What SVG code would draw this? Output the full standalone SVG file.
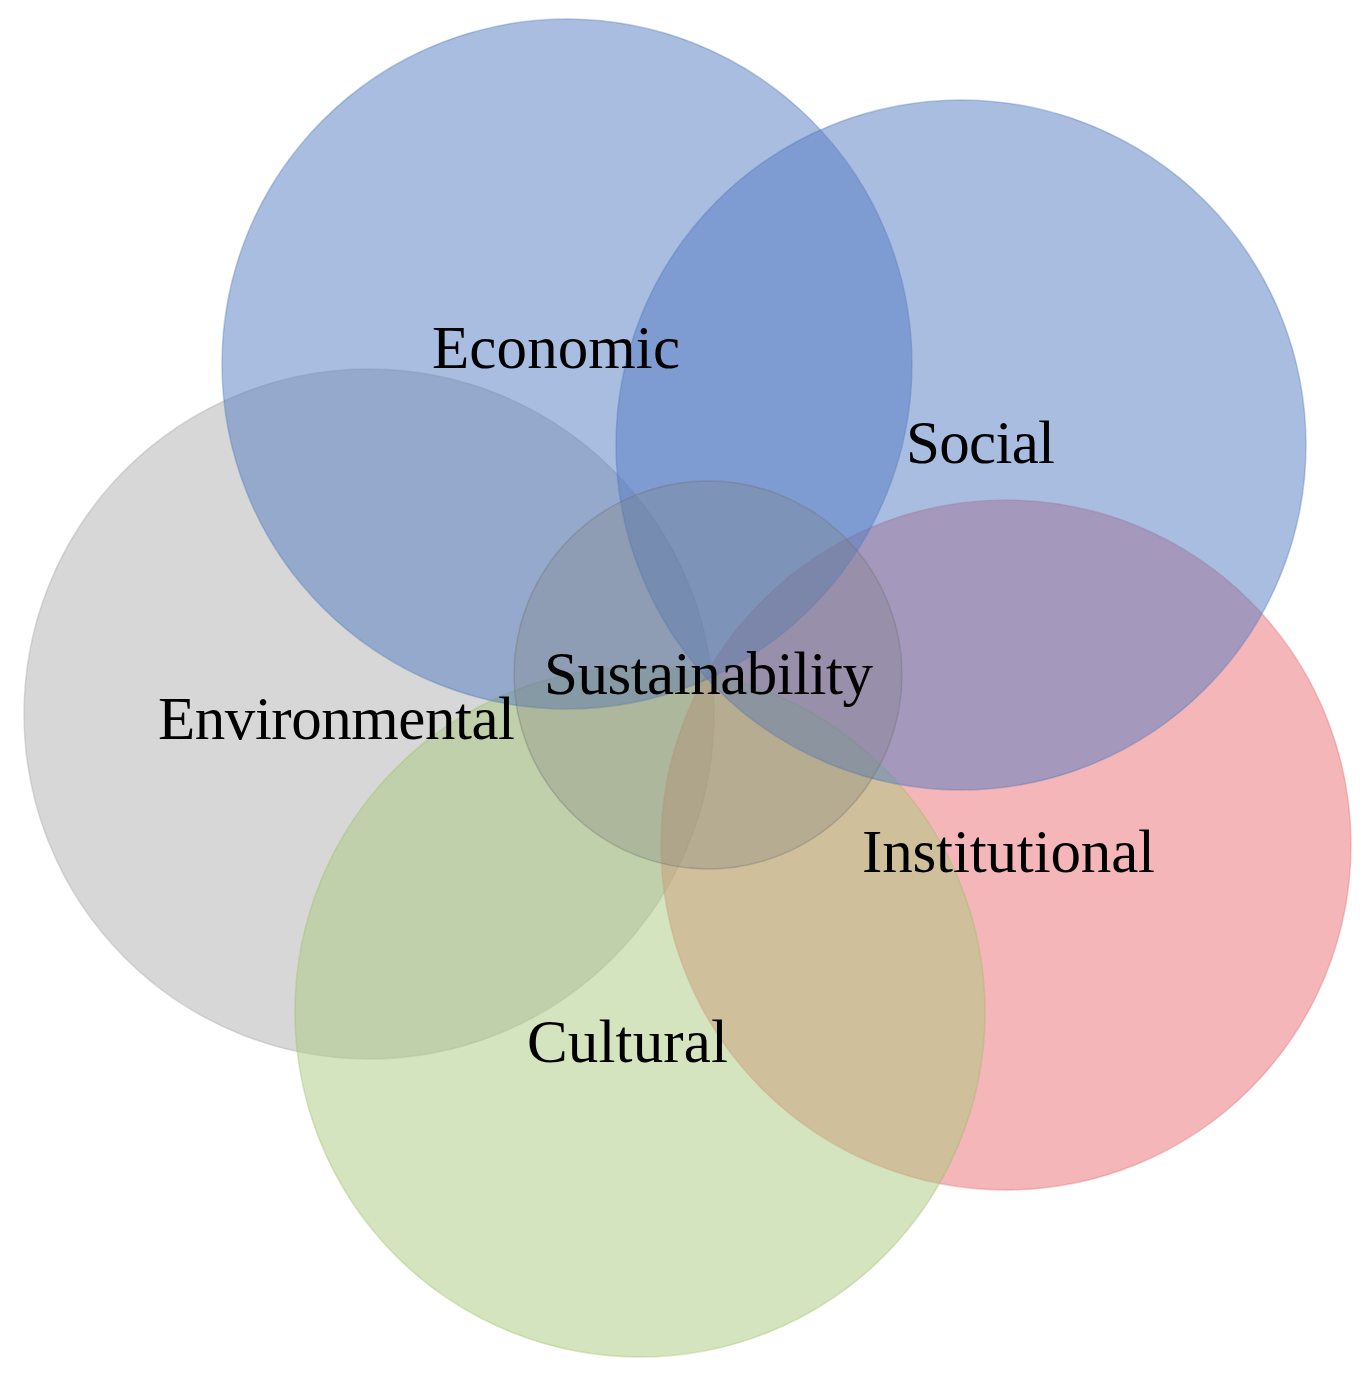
<svg xmlns="http://www.w3.org/2000/svg" width="1370" height="1379" viewBox="0 0 1370 1379">
<style>
.c{stroke-width:1.5;stroke-opacity:0.35}
.blue{fill:#537BC1;fill-opacity:0.5;stroke:#4A72B8}
.red{fill:#E96D71;fill-opacity:0.5;stroke:#E06A6E}
.green{fill:#A9C97D;fill-opacity:0.5;stroke:#9BBB59}
.gray{fill:#AFAFAF;fill-opacity:0.5;stroke:#A0A0A0}
.center{fill:#7F7F7F;fill-opacity:0.3;stroke:#707070}
text{font-family:"Liberation Serif","Times New Roman",serif;font-size:61px;fill:#000}
</style>
<rect width="1370" height="1379" fill="#fff"/>
<g id="environmental"><circle class="c gray" cx="369" cy="714" r="345"/></g>
<g id="institutional"><circle class="c red" cx="1006" cy="845" r="345"/></g>
<g id="cultural"><circle class="c green" cx="640" cy="1012" r="345"/></g>
<g id="economic"><circle class="c blue" cx="567" cy="364" r="345"/></g>
<g id="social"><circle class="c blue" cx="961" cy="445" r="345"/></g>
<g id="sustainability"><circle class="c center" cx="708" cy="675" r="194"/></g>
<g id="labels">
<text id="label-environmental" x="158" y="739" textLength="357">Environmental</text>
<text id="label-cultural" x="527" y="1062" textLength="201">Cultural</text>
<text id="label-institutional" x="862" y="872" textLength="293">Institutional</text>
<text id="label-economic" x="432" y="368" textLength="248">Economic</text>
<text id="label-social" x="906" y="463" textLength="149">Social</text>
<text id="label-sustainability" x="544" y="694" textLength="329">Sustainability</text>
</g>
<g id="connectors"></g>
</svg>
